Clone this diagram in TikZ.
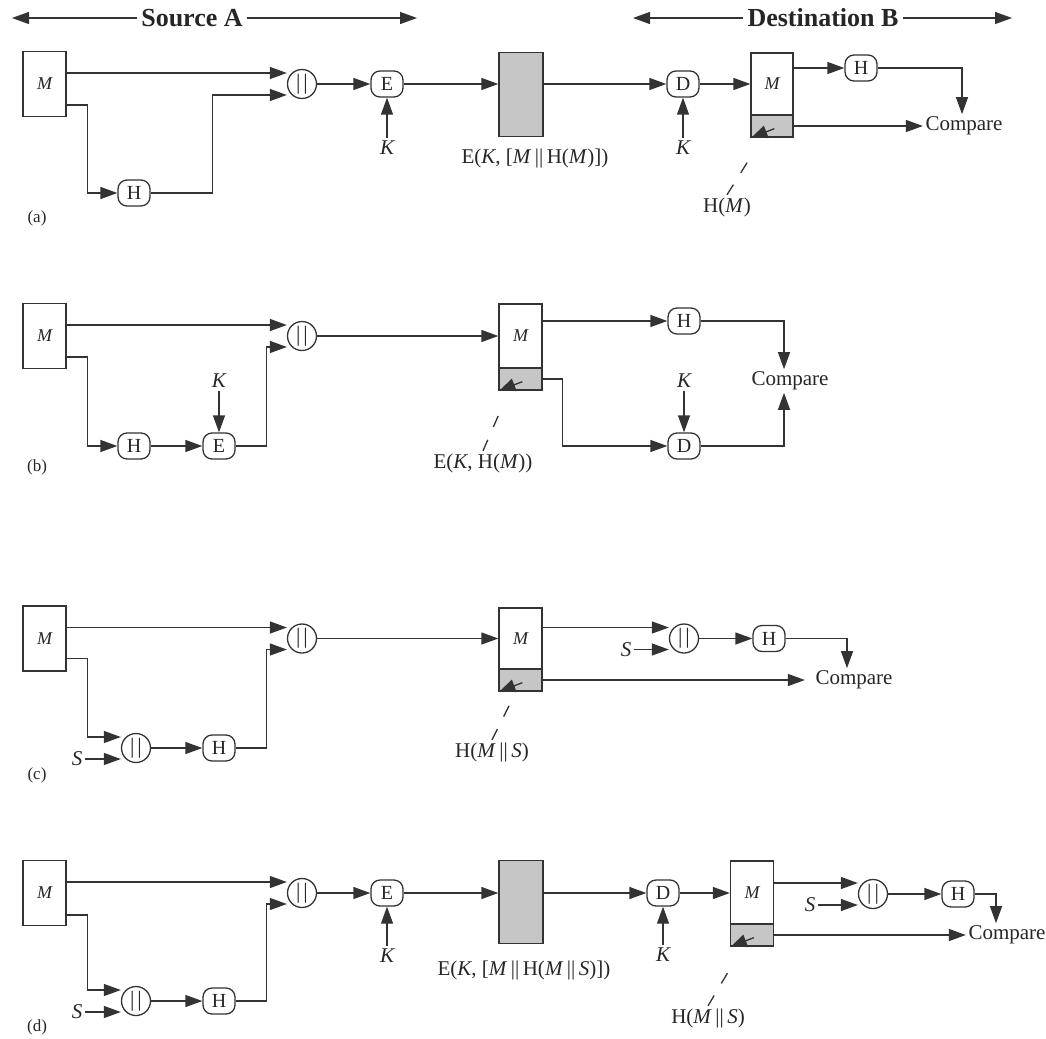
\documentclass[tikz,border=0pt]{standalone}
\usepackage{fontspec}
\setmainfont{Liberation Serif}
\usetikzlibrary{calc, arrows.meta, positioning}

\tikzset{
  msg/.style={draw, fill=white, minimum width=43pt, minimum height=65pt, inner sep=0pt, font=\fontsize{18}{20}\selectfont\itshape},
  tag/.style={draw, fill=gray!45, minimum width=43pt, minimum height=22pt, inner sep=0pt},
  cip/.style={draw, fill=gray!45, minimum width=44pt, minimum height=84pt, inner sep=0pt},
  op/.style={draw, fill=white, rounded corners=9pt, minimum width=32pt, minimum height=26pt, inner sep=0pt, font=\fontsize{20}{22}\selectfont},
  cat/.style={draw, fill=white, circle, minimum size=29pt, inner sep=0pt, font=\fontsize{22}{24}\selectfont},
  fl/.style={-{Triangle[length=17pt,width=12pt]}},
  ptr/.style={-{Triangle[length=16pt,width=13pt]}},
  lbl/.style={font=\fontsize{21}{24}\selectfont, inner sep=2pt},
  var/.style={font=\fontsize{21}{24}\selectfont\itshape, inner sep=2pt},
  part/.style={font=\fontsize{17}{20}\selectfont},
  head/.style={font=\fontsize{26}{30}\selectfont\bfseries, fill=white, inner xsep=4pt},
  leader/.style={dash pattern=on 12pt off 14pt},
}
\newcommand{\catbar}{\textbar\kern3pt\textbar}
\newcommand{\cc}{\,\textbar\textbar\,}

\begin{document}
\begin{tikzpicture}[x=1pt, y=-1pt, line width=1.3pt, draw=black!80, text=black!85]
  \useasboundingbox (0,0) rectangle (1046,1038);

  % Source / destination
  \node[head] (src) at (192,18) {Source A};
  \coordinate (srcL) at (12,18);
  \coordinate (srcR) at (417,18);
  \draw[fl] (src) -- (srcL);
  \draw[fl] (src) -- (srcR);
  \node[head] (dst) at (823,18) {Destination B};
  \coordinate (dstL) at (633,18);
  \coordinate (dstR) at (1012,18);
  \draw[fl] (dst) -- (dstL);
  \draw[fl] (dst) -- (dstR);

  % (a)
  \node[msg] (mA) at (44.5,84) {M};
  \node[cat] (catA) at (302,84) {\catbar};
  \node[op] (hA) at (134,193) {H};
  \node[op] (eA) at (387,84) {E};
  \node[var] (kA) at (387,148) {K};
  \node[cip] (cA) at (521,94.5) {};
  \node[lbl] (ctA) at (535,158) {E(\textit{K}, [\textit{M}\cc H(\textit{M})])};
  \node[op] (dA) at (683,84) {D};
  \node[var] (k2A) at (683,148) {K};
  \node[msg, minimum height=62pt, minimum width=42pt] (rA) at (772,84) {M};
  \node[tag, minimum width=42pt] (tA) at (772,126) {};
  \node[op] (h2A) at (861,68) {H};
  \node[lbl] (cmpA) at (964,126) {Compare};
  \node[lbl] (hmA) at (727,207) {H(\textit{M})};
  \node[part] at (37,218) {(a)};
  \coordinate (inA) at ([yshift=11pt]catA.west);
  \coordinate (in2A) at ([yshift=-11pt]catA.west);
  \draw[fl] (mA.east |- inA) -- (inA);
  \draw[fl] ([yshift=-21pt]mA.east) -- ++(21,0) |- (hA);
  \draw[fl] (hA.east) -- ++(62,0) |- (in2A);
  \draw[fl] (catA) -- (eA);
  \draw[fl] (kA) -- (eA);
  \draw[fl] (eA) -- (eA -| cA.west);
  \draw[fl] (cA.east |- dA) -- (dA);
  \draw[fl] (k2A) -- (dA);
  \draw[fl] (dA) -- (dA -| rA.west);
  \draw[fl] (rA.east |- h2A) -- (h2A);
  \draw[fl] (h2A) -| ([xshift=-2pt]cmpA.north);
  \draw[fl] (tA) -- (cmpA);
  \draw[ptr] ($(tA.south west)+(24,-9)$) -- ([xshift=1pt]tA.south west);
  \draw[leader] (hmA.north) -- ++(25,-40);

  % (b)
  \node[msg] (mB) at (44.5,336) {M};
  \node[cat] (catB) at (302,336) {\catbar};
  \node[op] (hB) at (134,446) {H};
  \node[op] (eB) at (219,446) {E};
  \node[var] (kB) at (219,381) {K};
  \node[msg, minimum height=64pt] (rB) at (520.5,336) {M};
  \node[tag] (tB) at (520.5,379) {};
  \node[op] (h2B) at (684,321) {H};
  \node[op] (dB) at (684,446) {D};
  \node[var] (k2B) at (684,381) {K};
  \node[lbl] (cmpB) at (790,381) {Compare};
  \node[lbl] (ehB) at (483,463) {E(\textit{K}, H(\textit{M}))};
  \node[part] at (37,467) {(b)};
  \coordinate (inB) at ([yshift=11pt]catB.west);
  \coordinate (in2B) at ([yshift=-11pt]catB.west);
  \draw[fl] (mB.east |- inB) -- (inB);
  \draw[fl] ([yshift=-21pt]mB.east) -- ++(21,0) |- (hB);
  \draw[fl] (hB) -- (eB);
  \draw[fl] (kB) -- (eB);
  \draw[fl] (eB.east) -- ++(31,0) |- (in2B);
  \draw[fl] (catB) -- (rB);
  \draw[fl] (rB.east |- h2B) -- (h2B);
  \draw[fl] (h2B) -| ([xshift=-6pt]cmpB.north);
  \draw[fl] (tB.east) -- ++(20,0) |- (dB);
  \draw[fl] (k2B) -- (dB);
  \draw[fl] (dB) -| ([xshift=-6pt]cmpB.south);
  \draw[ptr] ($(tB.south west)+(24,-9)$) -- ([xshift=1pt]tB.south west);
  \draw[leader] (ehB.north) -- ++(20,-46);

  % (c)
  \node[msg] (mC) at (44.5,638.5) {M};
  \node[cat] (catC) at (302,638.5) {\catbar};
  \node[cat] (icC) at (136,748) {\catbar};
  \node[var] (sC) at (77,759) {S};
  \node[op] (hC) at (219,748) {H};
  \node[msg, minimum height=61pt] (rC) at (520.5,638.5) {M};
  \node[tag] (tC) at (520.5,680) {};
  \node[cat] (cat2C) at (684,638.5) {\catbar};
  \node[var] (s2C) at (626,650) {S};
  \node[op] (h2C) at (769,638.5) {H};
  \node[lbl] (cmpC) at (854,680) {Compare};
  \node[lbl] (hsC) at (492,752) {H(\textit{M}\cc\textit{S})};
  \node[part] at (37,775) {(c)};
  \coordinate (inC) at ([yshift=11pt]catC.west);
  \coordinate (in2C) at ([yshift=-11pt]catC.west);
  \coordinate (inIC) at ([yshift=11pt]icC.west);
  \coordinate (in2IC) at ([yshift=-11pt]icC.west);
  \coordinate (in3C) at ([yshift=11pt]cat2C.west);
  \coordinate (in4C) at ([yshift=-11pt]cat2C.west);
  \draw[fl] (mC.east |- inC) -- (inC);
  \draw[fl] ([yshift=-20pt]mC.east) -- ++(21,0) |- (inIC);
  \draw[fl] (sC.east |- in2IC) -- (in2IC);
  \draw[fl] (icC) -- (hC);
  \draw[fl] (hC.east) -- ++(31,0) |- (in2C);
  \draw[fl] (catC) -- (rC);
  \draw[fl] (rC.east |- in3C) -- (in3C);
  \draw[fl] (s2C.east |- in4C) -- (in4C);
  \draw[fl] (cat2C) -- (h2C);
  \draw[fl] (h2C) -| ([xshift=-7pt]cmpC.north);
  \draw[fl] (tC) -- ([xshift=-8pt]cmpC.west);
  \draw[ptr] ($(tC.south west)+(24,-9)$) -- ([xshift=1pt]tC.south west);
  \draw[leader] (hsC.north) -- ++(20,-40);

  % (d)
  \node[msg] (mD) at (44.5,893) {M};
  \node[cat] (catD) at (302,893) {\catbar};
  \node[cat] (icD) at (136,1001) {\catbar};
  \node[var] (sD) at (77,1012) {S};
  \node[op] (hD) at (219,1001) {H};
  \node[op] (eD) at (387,893) {E};
  \node[var] (kD) at (387,956) {K};
  \node[cip, minimum height=83pt] (cD) at (521,902) {};
  \node[lbl] (ctD) at (524,970) {E(\textit{K}, [\textit{M}\cc H(\textit{M}\cc\textit{S})])};
  \node[op] (dD) at (663,893) {D};
  \node[var] (k2D) at (663,955) {K};
  \node[msg, minimum height=63pt] (rD) at (752,892.5) {M};
  \node[tag, minimum height=22pt] (tD) at (752,935) {};
  \node[cat] (cat2D) at (873,894) {\catbar};
  \node[var] (s2D) at (810,905) {S};
  \node[op] (h2D) at (958,894) {H};
  \node[lbl] (cmpD) at (1007,935) {Compare};
  \node[lbl] (hsD) at (708,1018) {H(\textit{M}\cc\textit{S})};
  \node[part] at (37,1027) {(d)};
  \coordinate (inD) at ([yshift=11pt]catD.west);
  \coordinate (in2D) at ([yshift=-11pt]catD.west);
  \coordinate (inID) at ([yshift=11pt]icD.west);
  \coordinate (in2ID) at ([yshift=-11pt]icD.west);
  \coordinate (in3D) at ([yshift=11pt]cat2D.west);
  \coordinate (in4D) at ([yshift=-11pt]cat2D.west);
  \draw[fl] (mD.east |- inD) -- (inD);
  \draw[fl] ([yshift=-22pt]mD.east) -- ++(21,0) |- (inID);
  \draw[fl] (sD.east |- in2ID) -- (in2ID);
  \draw[fl] (icD) -- (hD);
  \draw[fl] (hD.east) -- ++(31,0) |- (in2D);
  \draw[fl] (catD) -- (eD);
  \draw[fl] (kD) -- (eD);
  \draw[fl] (eD) -- (eD -| cD.west);
  \draw[fl] (cD.east |- dD) -- (dD);
  \draw[fl] (k2D) -- (dD);
  \draw[fl] (dD) -- (dD -| rD.west);
  \draw[fl] (rD.east |- in3D) -- (in3D);
  \draw[fl] (s2D.east |- in4D) -- (in4D);
  \draw[fl] (cat2D) -- (h2D);
  \draw[fl] (h2D) -| ([xshift=-11pt]cmpD.north);
  \draw[fl] (tD) -- (cmpD);
  \draw[ptr] ($(tD.south west)+(24,-9)$) -- ([xshift=1pt]tD.south west);
  \draw[leader] (hsD.north) -- ++(25,-42);
\end{tikzpicture}
\end{document}
